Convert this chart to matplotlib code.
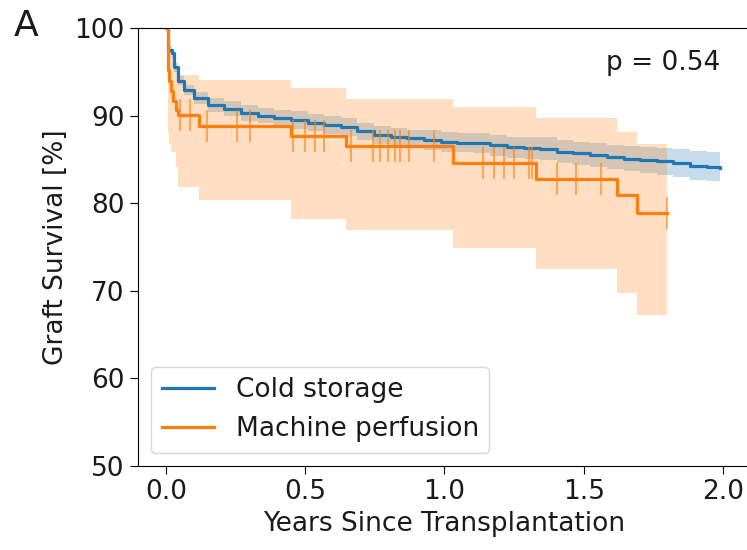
import numpy as np
import matplotlib
matplotlib.use("Agg")
import matplotlib.pyplot as plt

# ---- data ----
cold_t = [0.0, 0.007, 0.021, 0.029, 0.043, 0.065, 0.10, 0.15, 0.208, 0.269, 0.33, 0.387,
          0.448, 0.509, 0.566, 0.627, 0.686, 0.746, 0.807, 0.867, 0.927, 0.986, 1.045,
          1.104, 1.165, 1.226, 1.285, 1.344, 1.403, 1.462, 1.523, 1.584, 1.643, 1.703,
          1.762, 1.821, 1.882, 1.943, 1.989]
cold_s = [100.0, 97.5, 97.1, 95.5, 94.0, 92.9, 92.0, 91.2, 90.8, 90.3, 90.0, 89.7,
          89.5, 89.2, 88.9, 88.7, 88.2, 87.8, 87.6, 87.4, 87.2, 87.0, 86.9,
          86.9, 86.6, 86.4, 86.3, 86.2, 85.9, 85.7, 85.5, 85.3, 85.1, 84.9,
          84.8, 84.6, 84.3, 84.1, 84.0]
cold_lo = [100.0, 97.0, 96.6, 95.0, 93.5, 92.3, 91.3, 90.4, 89.9, 89.4, 89.1, 88.8,
           88.5, 88.2, 87.9, 87.7, 87.2, 86.8, 86.6, 86.3, 86.1, 85.9, 85.8,
           85.7, 85.4, 85.2, 85.0, 84.9, 84.6, 84.4, 84.1, 83.9, 83.7, 83.4,
           83.2, 83.0, 82.7, 82.5, 82.4]
cold_hi = [100.0, 98.0, 97.6, 96.0, 94.5, 93.5, 92.7, 92.0, 91.7, 91.2, 90.9, 90.6,
           90.5, 90.2, 89.9, 89.7, 89.2, 88.8, 88.6, 88.4, 88.3, 88.1, 88.0,
           88.0, 87.8, 87.6, 87.5, 87.5, 87.2, 87.0, 86.9, 86.7, 86.5, 86.4,
           86.3, 86.2, 86.0, 85.8, 85.8]

mp_t = [0.0, 0.006, 0.012, 0.018, 0.025, 0.035, 0.045, 0.118, 0.448, 0.645, 1.03,
        1.33, 1.62, 1.69, 1.80]
mp_s = [100.0, 95.2, 94.0, 92.8, 91.7, 90.6, 90.1, 88.8, 87.7, 86.5, 84.6,
        82.8, 80.9, 78.9, 78.9]
mp_hi = [100.0, 99.5, 98.5, 97.5, 96.3, 95.3, 94.6, 94.1, 93.1, 91.9, 91.0,
         89.7, 88.1, 86.8, 86.8]
mp_lo = [100.0, 88.0, 86.8, 85.8, 85.8, 84.1, 81.8, 80.4, 78.2, 76.9, 74.9,
         72.5, 69.7, 67.2, 67.2]
mp_censor = [0.050, 0.086, 0.147, 0.254, 0.301, 0.455, 0.498, 0.534, 0.566, 0.663,
             0.742, 0.767, 0.796, 0.824, 0.842, 0.871, 0.961, 1.140, 1.179, 1.215,
             1.251, 1.305, 1.315, 1.405, 1.473, 1.563, 1.80]

labels = ["Cold storage", "Machine perfusion"]
xticks = [0.0, 0.5, 1.0, 1.5, 2.0]
yticks = [50, 60, 70, 80, 90, 100]
p_text = "p = 0.54"

# ---- plot ----
plt.rcParams['font.family'] = ['DejaVu Sans']
FS = 19
TXT = '#1a1a1a'
fig = plt.figure(figsize=(7.47, 5.5), dpi=100)
ax = fig.add_axes([0.1847, 0.1527, 0.8206, 0.7964])

c0, c1 = '#1f77b4', '#ff7f0e'
ax.fill_between(cold_t, cold_lo, cold_hi, step='post', color=c0, alpha=0.25, lw=0)
ax.fill_between(mp_t, mp_lo, mp_hi, step='post', color=c1, alpha=0.25, lw=0)
ax.plot(cold_t, cold_s, drawstyle='steps-post', color=c0, lw=2.3, label=labels[0])
ax.plot(mp_t, mp_s, drawstyle='steps-post', color=c1, lw=2.3, label=labels[1])

mp_t_arr = np.array(mp_t)
idx = np.searchsorted(mp_t_arr, mp_censor, side='right') - 1
cens_y = np.array(mp_s)[idx]
ax.plot(mp_censor, cens_y, ls='none', marker='|', ms=23, mew=1.5, color=c1, alpha=0.6)

ax.set_xlim(-0.1, 2.1)
ax.set_ylim(50, 100)
ax.set_xticks(xticks)
ax.set_xticklabels([f"{v:.1f}" for v in xticks])
ax.set_yticks(yticks)
ax.tick_params(labelsize=FS, length=6, labelcolor=TXT)
ax.set_xlabel("Years Since Transplantation", fontsize=FS, color=TXT)
ax.set_ylabel("Graft Survival [%]", fontsize=FS, color=TXT)
ax.text(0.95, 0.92, p_text, transform=ax.transAxes, ha='right', va='center',
        fontsize=FS, color=TXT)
leg = ax.legend(loc='lower left', fontsize=FS)
for t in leg.get_texts():
    t.set_color(TXT)
fig.text(0.018, 0.952, "A", fontsize=26, ha='left', va='center', color=TXT)

fig.savefig("out.png", dpi=100)
